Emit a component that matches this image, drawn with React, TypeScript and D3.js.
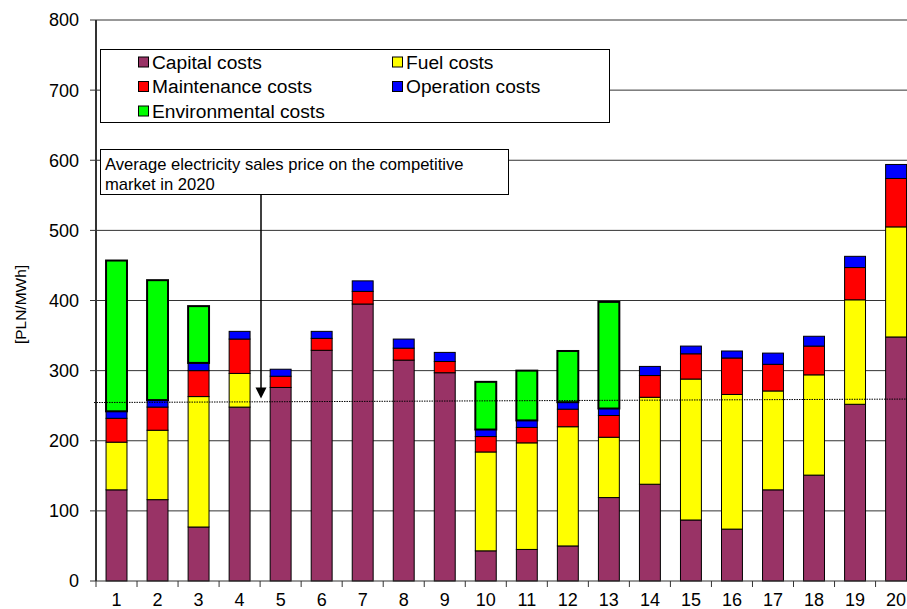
import React from 'react';
import * as d3 from 'd3';

const categories = ['1', '2', '3', '4', '5', '6', '7', '8', '9', '10', '11', '12', '13', '14', '15', '16', '17', '18', '19', '20'];
const capital = [130, 116, 77, 248, 276, 329, 395, 315, 297, 43, 45, 50, 119, 138, 87, 74, 130, 151, 252, 348];
const fuel = [68, 99, 186, 48, 0, 0, 0, 0, 0, 141, 152, 170, 86, 124, 201, 192, 141, 143, 149, 157];
const maintenance = [34, 33, 37, 49, 16, 17, 18, 17, 16, 22, 22, 25, 31, 31, 36, 52, 38, 41, 46, 69];
const operation = [10, 10, 11, 11, 10, 10, 15, 13, 13, 10, 10, 10, 10, 13, 11, 10, 16, 14, 16, 20];
const environmental = [215, 171, 81, 0, 0, 0, 0, 0, 0, 68, 71, 73, 152, 0, 0, 0, 0, 0, 0, 0];
const yTicks = [0, 100, 200, 300, 400, 500, 600, 700, 800];
// average price line, drawn slightly tilted like in the original
const avgPriceStart = 254.5;
const avgPriceEnd = 259.5;
const annotationLines = ['Average electricity sales price on the competitive', 'market in 2020'];

const seriesKeys = ['capital', 'fuel', 'maintenance', 'operation', 'environmental'];
const seriesNames: Record<string, string> = {
  capital: 'Capital costs',
  fuel: 'Fuel costs',
  maintenance: 'Maintenance costs',
  operation: 'Operation costs',
  environmental: 'Environmental costs',
};
const colors: Record<string, string> = {
  capital: '#993366',
  fuel: '#FFFF00',
  maintenance: '#FF0000',
  operation: '#0000FF',
  environmental: '#00FF00',
};

const W = 907;
const H = 609;
const left = 96;
const right = 916.6;
const top = 20;
const bottom = 581;
const font = '"Liberation Sans", Arial, sans-serif';

export default function App() {
  const rows = categories.map((c, i) => ({
    cat: c,
    capital: capital[i],
    fuel: fuel[i],
    maintenance: maintenance[i],
    operation: operation[i],
    environmental: environmental[i],
  }));
  const stacked = d3.stack<any>().keys(seriesKeys)(rows);

  const x = d3.scaleBand().domain(categories).range([left, right]).paddingInner(0.49).paddingOuter(0.245);
  const y = d3.scaleLinear().domain([0, 800]).range([bottom, top]);
  const step = x.step();

  // legend layout: two columns
  const legendItems = [
    { key: 'capital', col: 0, row: 0 },
    { key: 'fuel', col: 1, row: 0 },
    { key: 'maintenance', col: 0, row: 1 },
    { key: 'operation', col: 1, row: 1 },
    { key: 'environmental', col: 0, row: 2 },
  ];
  const legendColX = [138, 392];
  const legendRowY = [62, 86.5, 111];

  const arrowX = 261;
  const arrowTip = y(avgPriceStart) - 4;

  return (
    <svg width={W} height={H} style={{ position: 'absolute', left: 0, top: 0, background: '#fff' }} fontFamily={font}>
      {/* grid */}
      {yTicks.map((t) => (
        <g key={t}>
          {t > 0 && <line x1={left} x2={right} y1={y(t)} y2={y(t)} stroke="#333" strokeWidth={1} />}
          <line x1={left - 6} x2={left} y1={y(t)} y2={y(t)} stroke="#333" strokeWidth={1} />
          <text x={79} y={y(t)} dy="0.36em" textAnchor="end" fontSize={18} fill="#000">{t}</text>
        </g>
      ))}

      {/* bars */}
      {stacked.map((s) => (
        <g key={s.key}>
          {s.map((d, i) => {
            const h = y(d[0]) - y(d[1]);
            if (h <= 0) return null;
            const env = s.key === 'environmental';
            return (
              <rect
                key={i}
                x={x(categories[i])!}
                y={y(d[1])}
                width={x.bandwidth()}
                height={h}
                fill={colors[s.key]}
                stroke="#000"
                strokeWidth={env ? 2 : 1}
              />
            );
          })}
        </g>
      ))}

      {/* axes */}
      <line x1={left} x2={left} y1={top} y2={bottom} stroke="#333" strokeWidth={2} />
      <line x1={left} x2={right} y1={bottom} y2={bottom} stroke="#333" strokeWidth={1} />
      {d3.range(categories.length + 1).map((k) => (
        <line key={k} x1={left + k * step} x2={left + k * step} y1={bottom} y2={bottom + 6} stroke="#333" strokeWidth={1} />
      ))}
      {categories.map((c) => (
        <text key={c} x={x(c)! + x.bandwidth() / 2} y={606} textAnchor="middle" fontSize={18} fill="#000">{c}</text>
      ))}
      <text transform={`translate(26,${(top + bottom) / 2 + 4}) rotate(-90)`} textAnchor="middle" fontSize={15.5} fill="#000">[PLN/MWh]</text>

      {/* average price line */}
      <line x1={94} x2={right} y1={y(avgPriceStart)} y2={y(avgPriceEnd)} stroke="#000" strokeWidth={1} strokeDasharray="1.5,1" />

      {/* legend */}
      <rect x={100.5} y={49.5} width={509} height={73} fill="#fff" stroke="#000" strokeWidth={1} />
      {legendItems.map((it) => (
        <g key={it.key}>
          <rect x={legendColX[it.col] + 0.5} y={legendRowY[it.row] - 5} width={10} height={10} fill={colors[it.key]} stroke="#000" strokeWidth={1} />
          <text x={legendColX[it.col] + 14} y={legendRowY[it.row]} dy="0.36em" fontSize={19.2} fill="#000">{seriesNames[it.key]}</text>
        </g>
      ))}

      {/* annotation */}
      <rect x={100.5} y={149.5} width={408} height={45} fill="#fff" stroke="#000" strokeWidth={1} />
      {annotationLines.map((l, i) => (
        <text key={i} x={105} y={164 + i * 20} dy="0.36em" fontSize={16.6} fill="#000">{l}</text>
      ))}
      <line x1={arrowX} x2={arrowX} y1={195} y2={arrowTip - 9} stroke="#000" strokeWidth={1.5} />
      <path d={`M${arrowX - 5.5},${arrowTip - 11} L${arrowX + 5.5},${arrowTip - 11} L${arrowX},${arrowTip} Z`} fill="#000" />
    </svg>
  );
}
